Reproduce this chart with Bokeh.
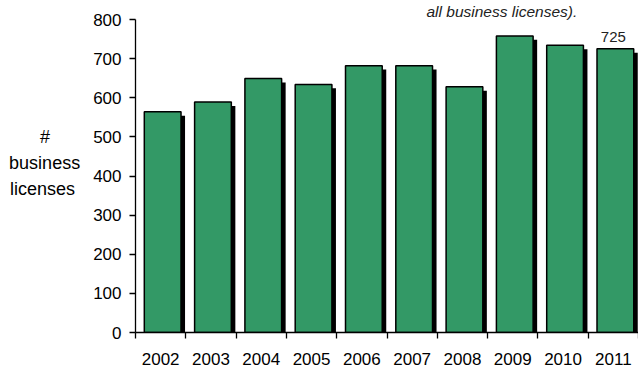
from bokeh.plotting import figure
from bokeh.models import FixedTicker, Label, Range1d, ColumnDataSource, Title
from bokeh.embed import file_html
from bokeh.resources import INLINE

years = ["2002", "2003", "2004", "2005", "2006", "2007", "2008", "2009", "2010", "2011"]
licenses = [564, 589, 649, 634, 682, 682, 628, 758, 734, 725]
y_ticks = [0, 100, 200, 300, 400, 500, 600, 700, 800]
y_label_lines = ["#", "business", "licenses"]
note_text = "all business licenses)."

FONT = "Liberation Sans"
GREEN = "#339966"
NB = "\u00a0"

xs = list(range(len(years)))
src = ColumnDataSource(dict(
    x=[i + 0.04 for i in xs],
    xs=[i + 0.12 for i in xs],
    top=licenses,
    stop=[v - 10 for v in licenses],
))

p = figure(width=638, height=368, output_backend="svg", toolbar_location=None,
           x_range=Range1d(-0.5, 9.5), y_range=Range1d(0, 800),
           min_border_left=135, min_border_right=0, min_border_top=17, min_border_bottom=36)
p.outline_line_color = None
p.xgrid.visible = False
p.ygrid.visible = False
p.background_fill_color = "white"
p.border_fill_color = "white"

# shadow
p.vbar(x="xs", top="stop", bottom=0, width=0.73, source=src, fill_color="black", line_color=None)
# bars
p.vbar(x="x", top="top", bottom=0, width=0.73, source=src, fill_color=GREEN,
       line_color="black", line_width=1.5)

# y axis
ya = p.yaxis[0]
ya.ticker = FixedTicker(ticks=y_ticks)
ya.major_tick_out = 6
ya.major_tick_in = 0
ya.minor_tick_out = 0
ya.minor_tick_in = 0
ya.axis_line_color = "black"
ya.axis_line_width = 1.3
ya.major_tick_line_width = 1.3
ya.major_label_text_font = FONT
ya.major_label_text_font_size = "17px"
ya.major_label_text_color = "black"
ya.major_label_standoff = 8
# centre the right-aligned lines with non-breaking spaces; trailing blank line lifts the block
padded = [y_label_lines[0] + NB * 6, y_label_lines[1], y_label_lines[2] + NB, NB]
ya.axis_label = "\n".join(padded)
ya.axis_label_text_font = FONT
ya.axis_label_text_font_size = "18px"
ya.axis_label_text_font_style = "normal"
ya.axis_label_text_color = "black"
ya.axis_label_standoff = 10
ya.axis_label_orientation = "horizontal"
ya.axis_label_text_line_height = 1.3

# x axis
xa = p.xaxis[0]
xa.ticker = FixedTicker(ticks=xs, minor_ticks=[i - 0.5 for i in range(len(years) + 1)])
xa.major_label_overrides = {i: y for i, y in enumerate(years)}
xa.major_tick_out = 0
xa.major_tick_in = 0
xa.minor_tick_out = 6
xa.minor_tick_in = 0
xa.minor_tick_line_color = "black"
xa.minor_tick_line_width = 1.3
xa.axis_line_color = "black"
xa.axis_line_width = 1.3
xa.major_label_text_font = FONT
xa.major_label_text_font_size = "17px"
xa.major_label_text_color = "black"
xa.major_label_standoff = 14

# value label on last bar
p.add_layout(Label(x=xs[-1], y=licenses[-1] + 30, text=str(licenses[-1]),
                   text_align="center", text_baseline="alphabetic",
                   text_font=FONT, text_font_size="15px", text_color="#222222"))

# note text (cut at top)
p.add_layout(Title(text=note_text, align="left", offset=291, text_font=FONT,
                   text_font_size="15.5px", text_font_style="italic", text_color="#222222",
                   standoff=0, text_line_height=0.75), "above")

open("out.html", "w").write(file_html(p, INLINE))
